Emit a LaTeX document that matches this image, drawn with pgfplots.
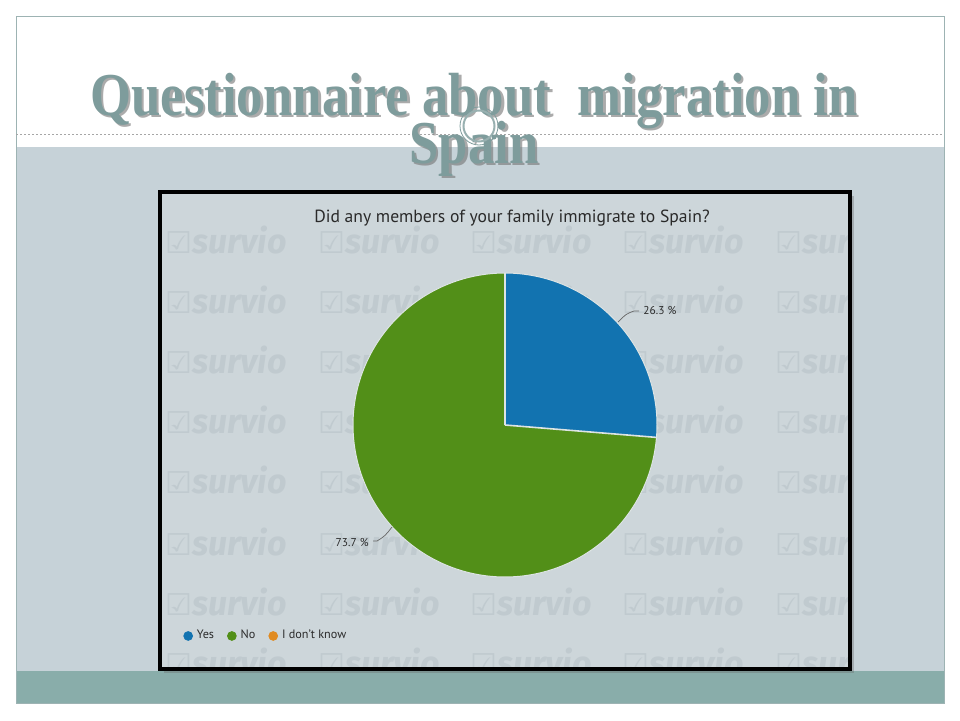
\documentclass[border=0pt]{standalone}
\usepackage{pgfplots}
\pgfplotsset{compat=1.18}
\usepackage{pgfplotstable}
\usepackage{fontspec}
\setmainfont{PT Sans}
\newfontfamily\titlefont{Liberation Serif}
\newfontfamily\wmfont{Fira Sans}
\newfontfamily\symfont{DejaVu Sans}
\definecolor{slideband}{HTML}{C6D2D8}
\definecolor{tealband}{HTML}{89ADAA}
\definecolor{framecol}{HTML}{9DB3B3}
\definecolor{chartbg}{HTML}{CDD6DA}
\definecolor{wmcol}{HTML}{C0CACF}
\definecolor{titlecol}{HTML}{7E9C9C}
\definecolor{pieblue}{HTML}{1273B0}
\definecolor{piegreen}{HTML}{528F18}
\definecolor{pieorange}{HTML}{E08B22}
\definecolor{sepcol}{HTML}{DDE4E4}
\definecolor{txtcol}{HTML}{2A2A2A}

\pgfplotstableread{
label value
Yes 26.3
No 73.7
Unknown 0.0
}\piedata

\begin{document}%
\begin{tikzpicture}
\pgfplotstablegetelem{0}{value}\of\piedata \pgfmathsetmacro\vyes{\pgfplotsretval}
\pgfplotstablegetelem{1}{value}\of\piedata \pgfmathsetmacro\vno{\pgfplotsretval}
\pgfmathsetmacro\aA{90}
\pgfmathsetmacro\aB{90-3.6*\vyes}
\pgfmathsetmacro\aC{\aB-3.6*\vno}
\begin{scope}[x=0.5pt,y=-0.5pt,shift={(0,360pt)}]
  \fill[white] (0,0) rectangle (960,720);
  \fill[slideband] (16,147) rectangle (944,671);
  \fill[tealband] (16,671) rectangle (944,703);
  \draw[framecol, line width=0.5pt] (16,16) rectangle (944,703);
  \draw[gray!70, line width=0.3pt, dash pattern=on 1pt off 1pt] (16,134) -- (460,134) (496,134) -- (944,134);
  % chart frame
  \fill[black!60, opacity=0.35] (164,196) rectangle (854,673);
  \fill[chartbg] (160,192) rectangle (850,669);
  \begin{scope}
    \clip (162,194) rectangle (848,667);
    \foreach \cx in {165,318,470,622,775}{
      \foreach \cy in {240,300,360,420,480,542,602,662}{
        \node[anchor=west, text=wmcol, inner sep=0pt] at (\cx,\cy)
          {\symfont\fontsize{15}{15}\selectfont ☑\wmfont\bfseries\itshape\fontsize{17}{17}\selectfont survio};
      }}
  \end{scope}
  \draw[black, line width=2pt] (160,192) rectangle (850,669);
  % slide title
  \node[anchor=base, inner sep=0pt, text=black!55, opacity=0.6] at (476.5,117.5)
    {\titlefont\bfseries\fontsize{29}{30}\selectfont\scalebox{0.91}[1.05]{Questionnaire about\ \ migration in}};
  \node[anchor=base, inner sep=0pt, text=titlecol] at (474,115)
    {\titlefont\bfseries\fontsize{29}{30}\selectfont\scalebox{0.91}[1.05]{Questionnaire about\ \ migration in}};
  \node[anchor=base, inner sep=0pt, text=black!55, opacity=0.6] at (476.5,165.5)
    {\titlefont\bfseries\fontsize{29}{30}\selectfont\scalebox{0.91}[1.05]{Spain}};
  \node[anchor=base, inner sep=0pt, text=titlecol] at (474,163)
    {\titlefont\bfseries\fontsize{29}{30}\selectfont\scalebox{0.91}[1.05]{Spain}};
  % ornament
  \draw[titlecol, line width=0.4pt] (479,126) circle (19);
  \draw[titlecol!80!white, line width=1pt] (479,126) circle (15.5);
  \fill[titlecol] (494,137) circle (2.5);
  % chart title
  \node[anchor=base, inner sep=0pt, text=txtcol] at (512,222)
    {\fontsize{8.8}{9}\selectfont Did any members of your family immigrate to Spain?};
\end{scope}

\begin{axis}[
  at={(0,0)}, anchor=south west,
  scale only axis, width=480pt, height=360pt,
  xmin=0, xmax=960, ymin=0, ymax=720,
  hide axis, clip=false,
  legend columns=-1,
  legend style={at={(axis description cs:0.1906,0.1167)}, anchor=west,
    draw=none, fill=none, font=\fontsize{6.1}{7}\selectfont, text=txtcol,
    /tikz/every even column/.append style={column sep=4.5pt},
    inner sep=0pt},
  legend image code/.code={\fill[#1] (0.12cm,0cm) circle (2.2pt);},
]
  \addlegendimage{pieblue}\addlegendentry{Yes}
  \addlegendimage{piegreen}\addlegendentry{No}
  \addlegendimage{pieorange}\addlegendentry{I don't know}

  \addplot[forget plot, draw=none, fill=pieblue, domain=\aB:\aA, samples=80, variable=\t]
    ({505+152*cos(\t)},{295+152*sin(\t)}) -- (axis cs:505,295) -- cycle;
  \addplot[forget plot, draw=none, fill=piegreen, domain=\aC:\aB, samples=200, variable=\t]
    ({505+152*cos(\t)},{295+152*sin(\t)}) -- (axis cs:505,295) -- cycle;
  \addplot[forget plot, draw=sepcol, line width=0.5pt, domain=0:360, samples=240, variable=\t]
    ({505+152*cos(\t)},{295+152*sin(\t)});
  \draw[sepcol, line width=0.8pt] (axis cs:505,295) -- (axis cs:{505+152*cos(\aA)},{295+152*sin(\aA)});
  \draw[sepcol, line width=0.8pt] (axis cs:505,295) -- (axis cs:{505+152*cos(\aB)},{295+152*sin(\aB)});
  % leader lines and labels
  \draw[gray!80!black, line width=0.35pt] (axis cs:618,398) .. controls (axis cs:626,406) .. (axis cs:634,409) -- (axis cs:639,409);
  \node[anchor=west, inner sep=0pt, text=txtcol, font=\fontsize{5.7}{6}\selectfont] at (axis cs:643,409) {26.3 \%};
  \draw[gray!80!black, line width=0.35pt] (axis cs:392,193) .. controls (axis cs:385,184) .. (axis cs:377,179) -- (axis cs:373,179);
  \node[anchor=east, inner sep=0pt, text=txtcol, font=\fontsize{5.7}{6}\selectfont] at (axis cs:369,178) {73.7 \%};
\end{axis}
\end{tikzpicture}%
\end{document}
